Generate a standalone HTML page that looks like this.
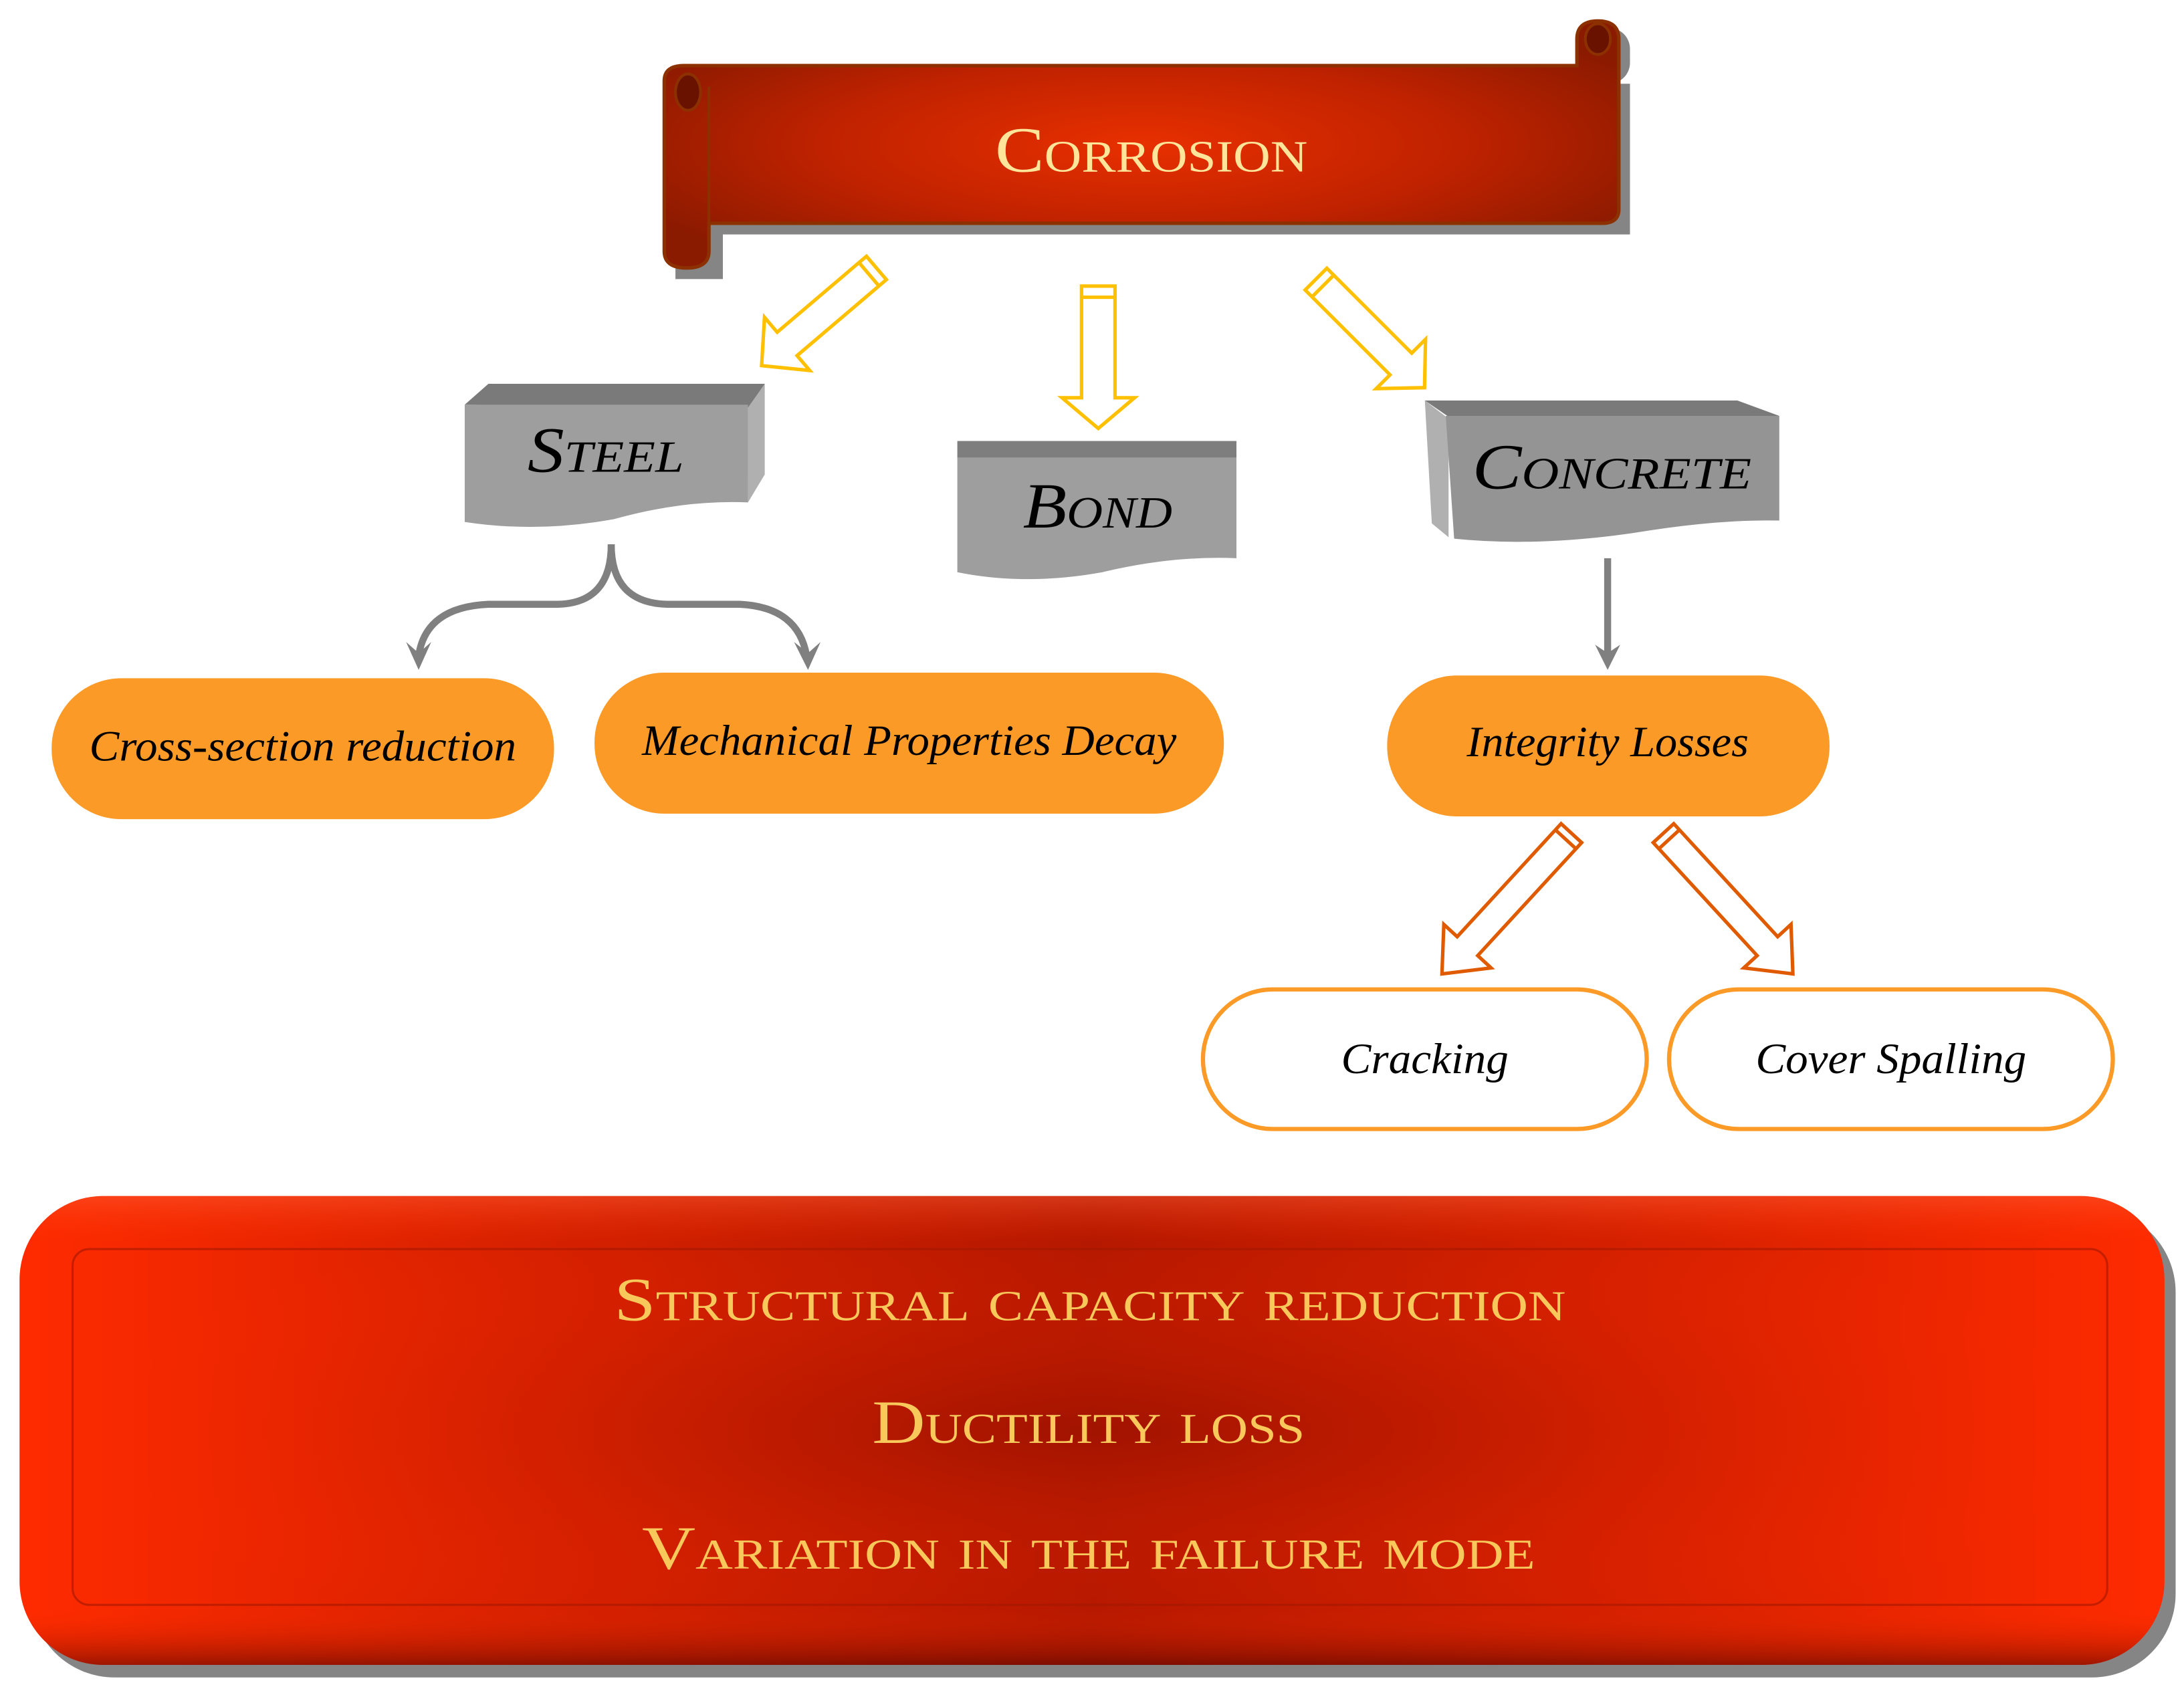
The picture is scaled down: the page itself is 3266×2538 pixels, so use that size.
<!DOCTYPE html>
<html><head><meta charset="utf-8"><style>
html,body{margin:0;padding:0;background:#fff;}
svg{display:block;}
.sc{font-family:"Liberation Serif",serif;font-variant:small-caps;}
.it{font-family:"Liberation Serif",serif;font-style:italic;}
</style></head><body>
<svg width="3266" height="2538" viewBox="0 0 1565 1216" preserveAspectRatio="none" xmlns="http://www.w3.org/2000/svg">
<defs>
<radialGradient id="rb" cx="0.5" cy="0.5" r="0.6">
<stop offset="0" stop-color="#e83000"/><stop offset="0.55" stop-color="#c02200"/><stop offset="1" stop-color="#8a1a00"/>
</radialGradient>
<linearGradient id="bg" x1="0" x2="1" y1="0" y2="0">
<stop offset="0" stop-color="#ff2b00"/><stop offset="0.5" stop-color="#a81500"/><stop offset="1" stop-color="#ff2b00"/>
</linearGradient>
<radialGradient id="bg2" cx="0.5" cy="0.5" r="0.5">
<stop offset="0" stop-color="#a01300" stop-opacity="0.9"/><stop offset="1" stop-color="#ff2b00" stop-opacity="0"/>
</radialGradient>
<linearGradient id="bv" x1="0" x2="0" y1="0" y2="1">
<stop offset="0" stop-color="#ff5a30" stop-opacity="0.5"/><stop offset="0.1" stop-color="#ff3000" stop-opacity="0"/>
<stop offset="0.88" stop-color="#ff3000" stop-opacity="0"/><stop offset="1" stop-color="#600800" stop-opacity="0.6"/>
</linearGradient>
</defs>

<!-- scroll banner -->
<g>
<path d="M484 60 H1168 V168 H518 V200 H484 Z" fill="#858585"/>
<rect x="1138" y="20" width="30" height="40" rx="15" fill="#858585"/>
<path d="M476 58 Q476 47 490 47 H1130 V28 Q1130 15 1145 15 Q1160 15 1160 28 V150 Q1160 160 1148 160 H508 V180 Q508 192 492 192 Q476 192 476 180 Z" fill="url(#rb)" stroke="#8c3000" stroke-width="2.5"/>
<ellipse cx="493" cy="66" rx="9" ry="13" fill="#6a1200" stroke="#8c3000" stroke-width="2"/>
<ellipse cx="1145" cy="28" rx="9" ry="11" fill="#6a1200" stroke="#8c3000" stroke-width="2"/>
<line x1="508" y1="62" x2="508" y2="160" stroke="#8c3000" stroke-width="2"/>
<text x="713" y="123" class="sc" font-size="46" fill="#ffe59a" textLength="224" lengthAdjust="spacingAndGlyphs">Corrosion</text>
</g>

<!-- yellow arrows -->
<g fill="#fff" stroke="#ffc000" stroke-width="2.5">
<g transform="translate(628,192) rotate(49.6)">
<polygon points="-11,0 11,0 11,84 25,84 0,108 -25,84 -11,84"/><line x1="-11" y1="7" x2="11" y2="7"/>
</g>
<g transform="translate(787,205)">
<polygon points="-12,0 12,0 12,80 26,80 0,102 -26,80 -12,80"/><line x1="-12" y1="8" x2="12" y2="8"/>
</g>
<g transform="translate(943,200) rotate(-45)">
<polygon points="-11,0 11,0 11,86 25,86 0,110 -25,86 -11,86"/><line x1="-11" y1="7" x2="11" y2="7"/>
</g>
</g>

<!-- grey boxes -->
<g>
<path d="M333 290 L350 275 H548 L540 292 Z" fill="#7a7a7a"/>
<path d="M536 292 L548 275 V340 L536 360 Z" fill="#b0b0b0"/>
<path d="M333 290 H536 V360 Q490 358 440 372 Q385 382 333 374 Z" fill="#9e9e9e"/>
<text x="378" y="338" class="sc it" font-size="46" fill="#000" textLength="112" lengthAdjust="spacingAndGlyphs">Steel</text>

<rect x="686" y="316" width="200" height="12" fill="#7e7e7e"/>
<path d="M686 328 H886 V400 Q840 398 790 410 Q735 420 686 410 Z" fill="#9e9e9e"/>
<text x="733" y="378" class="sc it" font-size="46" fill="#000" textLength="107" lengthAdjust="spacingAndGlyphs">Bond</text>

<path d="M1021 287 H1245 L1275 298 L1040 300 Z" fill="#7a7a7a"/>
<path d="M1021 287 L1038 300 V385 L1026 375 Z" fill="#b0b0b0"/>
<path d="M1036 298 H1275 V373 Q1230 372 1170 382 Q1100 392 1042 386 Z" fill="#949494"/>
<text x="1055" y="350" class="sc it" font-size="46" fill="#000" textLength="200" lengthAdjust="spacingAndGlyphs">Concrete</text>
</g>

<!-- grey connectors -->
<g fill="none" stroke="#808080" stroke-width="5">
<path d="M438 390 Q438 432 400 433 H350 Q305 435 300 470"/>
<path d="M438 390 Q438 432 478 433 H530 Q572 435 578 470"/>
<line x1="1152" y1="400" x2="1152" y2="468"/>
</g>
<g fill="#808080">
<polygon points="291,460 300,480 309,460 300,468"/>
<polygon points="569,460 579,480 588,460 579,468"/>
<polygon points="1143,462 1152,480 1161,462 1152,468"/>
</g>

<!-- orange pills -->
<g fill="#fb9a26">
<rect x="37" y="486" width="360" height="101" rx="50"/>
<rect x="426" y="482" width="451" height="101" rx="50"/>
<rect x="994" y="484" width="317" height="101" rx="50"/>
</g>
<g class="it" font-size="31" fill="#000" lengthAdjust="spacingAndGlyphs">
<text x="64" y="545" textLength="306" lengthAdjust="spacingAndGlyphs">Cross-section reduction</text>
<text x="460" y="541" textLength="383" lengthAdjust="spacingAndGlyphs">Mechanical Properties Decay</text>
<text x="1051" y="542" textLength="202" lengthAdjust="spacingAndGlyphs">Integrity Losses</text>
</g>

<!-- orange arrows -->
<g fill="#fff" stroke="#e05a00" stroke-width="2.5">
<g transform="translate(1126,597) rotate(42.6)">
<polygon points="-10,0 10,0 10,110 23,110 0,137 -23,110 -10,110"/><line x1="-10" y1="6" x2="10" y2="6"/>
</g>
<g transform="translate(1192,597) rotate(-42.6)">
<polygon points="-10,0 10,0 10,110 23,110 0,137 -23,110 -10,110"/><line x1="-10" y1="6" x2="10" y2="6"/>
</g>
</g>

<!-- white pills -->
<g fill="#fff" stroke="#fb9a26" stroke-width="3">
<rect x="862" y="709" width="318" height="100" rx="50"/>
<rect x="1196" y="709" width="318" height="100" rx="50"/>
</g>
<g class="it" font-size="31" fill="#000">
<text x="961" y="769" textLength="120" lengthAdjust="spacingAndGlyphs">Cracking</text>
<text x="1258" y="769" textLength="194" lengthAdjust="spacingAndGlyphs">Cover Spalling</text>
</g>

<!-- bottom box -->
<rect x="22" y="866" width="1537" height="336" rx="60" fill="#858585"/>
<rect x="14" y="857" width="1537" height="336" rx="60" fill="url(#bg)"/>
<rect x="14" y="857" width="1537" height="336" rx="60" fill="url(#bg2)"/>
<rect x="14" y="857" width="1537" height="336" rx="60" fill="url(#bv)"/>
<rect x="52" y="895" width="1458" height="255" rx="12" fill="none" stroke="#a01800" stroke-width="1.5" opacity="0.6"/>
<g class="sc" font-size="44" fill="#f8c85a">
<text x="440" y="946" textLength="682" lengthAdjust="spacingAndGlyphs">Structural capacity reduction</text>
<text x="625" y="1034" textLength="310" lengthAdjust="spacingAndGlyphs">Ductility loss</text>
<text x="460" y="1124" textLength="640" lengthAdjust="spacingAndGlyphs">Variation in the failure mode</text>
</g>
</svg>
</body></html>
